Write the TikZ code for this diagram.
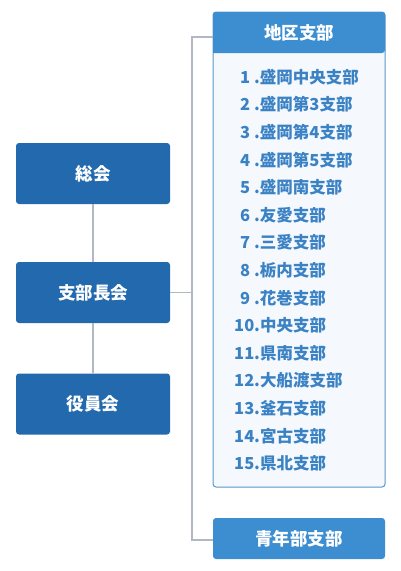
\documentclass[tikz,border=0pt]{standalone}
\usepackage{fontspec}
\setmainfont{Noto Sans CJK JP}
\definecolor{darkbox}{HTML}{2369AD}
\definecolor{lightbox}{HTML}{3D8ED0}
\definecolor{listtext}{HTML}{3B82C4}
\definecolor{listbg}{HTML}{F5F9FD}
\definecolor{listborder}{HTML}{5A96C8}
\definecolor{connector}{HTML}{B0B8C3}
\tikzset{
  darknode/.style={rectangle, rounded corners=3pt, fill=darkbox, text=white,
    minimum width=154pt, minimum height=61pt, inner sep=0pt,
    font=\fontsize{17.5}{17.5}\selectfont\bfseries},
  lightnode/.style={rectangle, rounded corners=3pt, fill=lightbox, text=white,
    minimum width=172pt, minimum height=41pt, inner sep=0pt,
    font=\fontsize{17.5}{17.5}\selectfont\bfseries},
  headtext/.style={text=white, inner sep=0pt, font=\fontsize{17.5}{17.5}\selectfont\bfseries},
  item/.style={anchor=west, text=listtext, inner sep=0pt,
    font=\fontsize{16.5}{16.5}\selectfont\bfseries},
  conn/.style={draw=connector, line width=1.3pt},
}
\newcommand{\one}[1]{\makebox[20pt][l]{\hspace{6pt}#1}}
\newcommand{\two}[1]{\makebox[20pt][l]{#1}}
\begin{document}
\begin{tikzpicture}[x=1pt,y=-1pt]
\useasboundingbox (0,0) rectangle (400,571);
% list frame
\draw[listborder, fill=listbg, line width=1pt, rounded corners=3pt] (213,12) rectangle (385,487);
\fill[lightbox, rounded corners=3pt] (213,53) -- (213,12) -- (385,12) -- (385,53) [sharp corners] -- cycle;
\node[headtext] (chiku) at (299,32.5) {地区支部};
% left nodes
\node[darknode] (soukai) at (93,173.5) {総会};
\node[darknode] (shibuchou) at (93,292.5) {支部長会};
\node[darknode] (yakuin) at (93,404) {役員会};
\node[lightnode] (seinen) at (299,538.5) {青年部支部};
% connectors
\coordinate (j1) at (192,37);
\coordinate (j2) at (192,540);
\draw[conn] (soukai.south) -- (shibuchou.north);
\draw[conn] (shibuchou.south) -- (yakuin.north);
\draw[conn] (shibuchou.east) -- (shibuchou.east -| j1);
\draw[conn] (213,37) -- (j1) -- (j2) -- (j2 -| seinen.west);
% list items
\node[item] (i1)  at (234,77)  {\one{1}.盛岡中央支部};
\node[item] (i2)  at (234,104.6) {\one{2}.盛岡第3支部};
\node[item] (i3)  at (234,132.2) {\one{3}.盛岡第4支部};
\node[item] (i4)  at (234,159.8) {\one{4}.盛岡第5支部};
\node[item] (i5)  at (234,187.4) {\one{5}.盛岡南支部};
\node[item] (i6)  at (234,215) {\one{6}.友愛支部};
\node[item] (i7)  at (234,242.6) {\one{7}.三愛支部};
\node[item] (i8)  at (234,270.2) {\one{8}.栃内支部};
\node[item] (i9)  at (234,297.8) {\one{9}.花巻支部};
\node[item] (i10) at (234,325.4) {\two{10}.中央支部};
\node[item] (i11) at (234,353) {\two{11}.県南支部};
\node[item] (i12) at (234,380.6) {\two{12}.大船渡支部};
\node[item] (i13) at (234,408.2) {\two{13}.釜石支部};
\node[item] (i14) at (234,435.8) {\two{14}.宮古支部};
\node[item] (i15) at (234,463.4) {\two{15}.県北支部};
\end{tikzpicture}
\end{document}
